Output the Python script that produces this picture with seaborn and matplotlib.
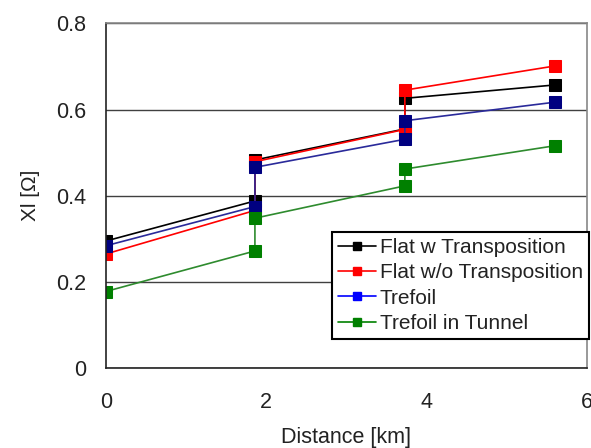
import matplotlib
matplotlib.use('Agg')
import matplotlib.pyplot as plt
from matplotlib.lines import Line2D
import seaborn as sns

# distance points (km); 1.86 and 3.73 appear twice (jump at the joints)
distance = [0, 1.86, 1.86, 3.73, 3.73, 5.6]

flat_w_transp = [0.295, 0.388, 0.483, 0.555, 0.626, 0.657]
flat_wo_transp = [0.265, 0.366, 0.479, 0.554, 0.645, 0.701]
trefoil = [0.284, 0.375, 0.466, 0.531, 0.574, 0.617]
trefoil_tunnel = [0.178, 0.272, 0.348, 0.423, 0.462, 0.516]

labels = ['Flat w Transposition', 'Flat w/o Transposition', 'Trefoil', 'Trefoil in Tunnel']
series = [flat_w_transp, flat_wo_transp, trefoil, trefoil_tunnel]
plot_colors = ['black', '#ff0000', '#000080', '#008000']
line_colors = ['black', '#ff0000', '#2a2a9a', '#2e8b2e']
legend_colors = ['black', '#ff0000', '#0000ff', '#008000']

sns.set_style('white')
plt.rcParams['font.family'] = ['Liberation Sans', 'DejaVu Sans']

fig = plt.figure(figsize=(5.91, 4.48), dpi=100)
ax = fig.add_axes([0.179, 0.178, 0.814, 0.770])

for ys, mc, lc in zip(series, plot_colors, line_colors):
    sns.lineplot(x=distance, y=ys, sort=False, estimator=None, ax=ax,
                 color=lc, lw=1.2, marker='s', markersize=9,
                 markerfacecolor=mc, markeredgecolor=mc, legend=False)

ax.set_xlim(0, 6)
ax.set_ylim(0, 0.8)
ax.set_xticks([0, 2, 4, 6])
ax.set_yticks([0, 0.2, 0.4, 0.6, 0.8])
ax.set_yticklabels(['0', '0.2', '0.4', '0.6', '0.8'])
ax.grid(axis='y', color='#404040', lw=1)
ax.grid(axis='x', visible=False)

for side in ['left', 'bottom']:
    ax.spines[side].set_color('#222222')
    ax.spines[side].set_linewidth(1.2)
for side in ['top', 'right']:
    ax.spines[side].set_color('#888888')
    ax.spines[side].set_linewidth(1.2)

ax.tick_params(axis='x', direction='in', length=4, pad=17, labelsize=15.5, colors='#222222', labelcolor='#222222')
ax.tick_params(axis='y', direction='in', length=0, pad=14, labelsize=15.5, labelcolor='#222222')

ax.set_xlabel('Distance [km]', fontsize=15.5, color='#222222')
ax.set_ylabel('Xl [Ω]', fontsize=15, color='#222222')
ax.xaxis.set_label_coords(0.5, -0.17)
ax.yaxis.set_label_coords(-0.137, 0.5)

handles = [Line2D([], [], color=c, lw=1.2, marker='s', markersize=6) for c in legend_colors]
leg = ax.legend(handles, labels, loc='upper left', bbox_to_anchor=(0.47, 0.395),
                borderaxespad=0, fontsize=15, frameon=True, fancybox=False,
                framealpha=1, edgecolor='black', handlelength=1.8,
                handletextpad=0.2, labelspacing=0.3, borderpad=0.3)
leg.get_frame().set_linewidth(1.5)
for t in leg.get_texts():
    t.set_color('#222222')

fig.savefig('out.png', dpi=100)
